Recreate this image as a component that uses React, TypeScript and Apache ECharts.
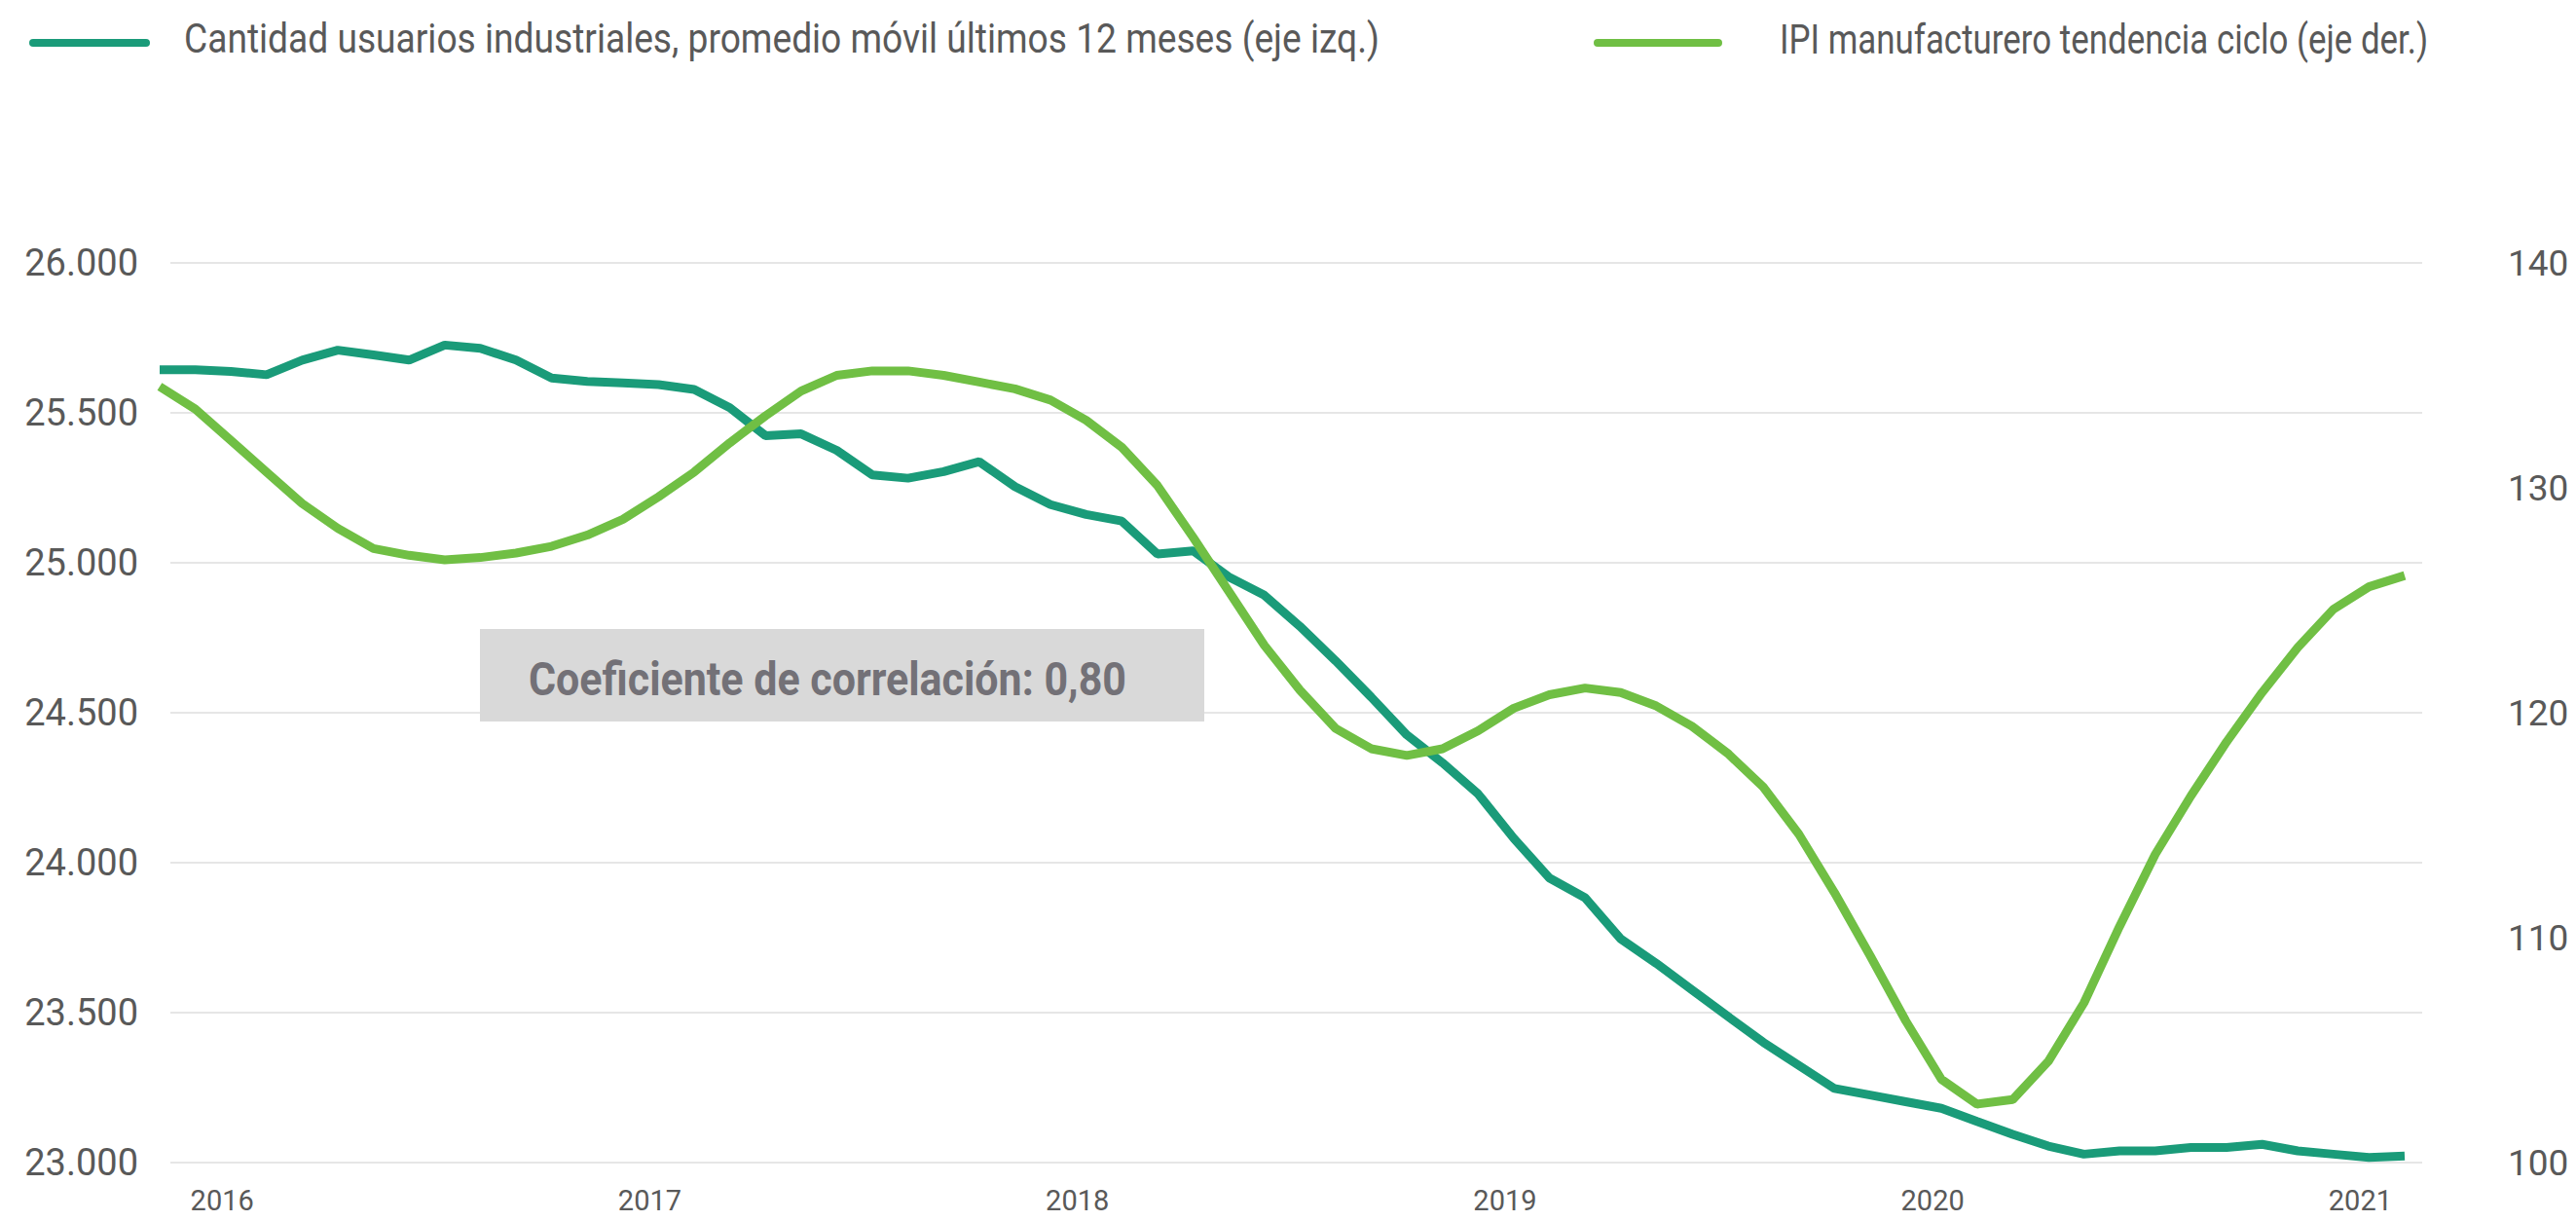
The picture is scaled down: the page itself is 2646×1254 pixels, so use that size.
import React, { useEffect, useRef } from "react";
import * as echarts from "echarts";

const categories = [
  "nov-15", "dic-15",
  "ene-16", "feb-16", "mar-16", "abr-16", "may-16", "jun-16", "jul-16", "ago-16", "sep-16", "oct-16", "nov-16", "dic-16",
  "ene-17", "feb-17", "mar-17", "abr-17", "may-17", "jun-17", "jul-17", "ago-17", "sep-17", "oct-17", "nov-17", "dic-17",
  "ene-18", "feb-18", "mar-18", "abr-18", "may-18", "jun-18", "jul-18", "ago-18", "sep-18", "oct-18", "nov-18", "dic-18",
  "ene-19", "feb-19", "mar-19", "abr-19", "may-19", "jun-19", "jul-19", "ago-19", "sep-19", "oct-19", "nov-19", "dic-19",
  "ene-20", "feb-20", "mar-20", "abr-20", "may-20", "jun-20", "jul-20", "ago-20", "sep-20", "oct-20", "nov-20", "dic-20",
  "ene-21", "feb-21",
];

const usuariosIndustriales = [
  25644, 25644, 25638, 25627, 25676, 25709, 25693, 25676, 25726, 25715, 25676, 25616,
  25605, 25600, 25594, 25578, 25517, 25424, 25430, 25375, 25293, 25282, 25304, 25337,
  25254, 25194, 25161, 25139, 25029, 25040, 24953, 24892, 24788, 24673, 24552, 24426,
  24333, 24229, 24081, 23949, 23883, 23746, 23664, 23576, 23488, 23401, 23324, 23247,
  23225, 23203, 23181, 23137, 23094, 23055, 23028, 23039, 23039, 23050, 23050, 23061,
  23039, 23028, 23017, 23022,
];

const ipiManufacturero = [
  134.5, 133.5, 132.1, 130.7, 129.3, 128.2, 127.3, 127.0, 126.8, 126.9, 127.1, 127.4,
  127.9, 128.6, 129.6, 130.7, 132.0, 133.2, 134.3, 135.0, 135.2, 135.2, 135.0, 134.7,
  134.4, 133.9, 133.0, 131.8, 130.1, 127.8, 125.4, 123.0, 121.0, 119.3, 118.4, 118.1,
  118.4, 119.2, 120.2, 120.8, 121.1, 120.9, 120.3, 119.4, 118.2, 116.7, 114.6, 112.0,
  109.2, 106.3, 103.7, 102.6, 102.8, 104.5, 107.1, 110.5, 113.7, 116.3, 118.7, 120.9,
  122.9, 124.6, 125.6, 126.1,
];

const leftAxis = { min: 23000, max: 26000, interval: 500 };
const rightAxis = { min: 100, max: 140, interval: 10 };

const legendLabels = [
  "Cantidad usuarios industriales, promedio móvil últimos 12 meses (eje izq.)",
  "IPI manufacturero tendencia ciclo (eje der.)",
];
const annotationText = "Coeficiente de correlación: 0,80";

const TEAL = "#1a9b79";
const GREEN = "#70bf44";
const AXIS_TEXT = "#595959";

function measure(text: string, font: string): number {
  const c = document.createElement("canvas");
  const ctx = c.getContext("2d");
  if (!ctx) return text.length * 20;
  ctx.font = font;
  return ctx.measureText(text).width;
}

function thousands(v: number): string {
  return String(v).replace(/\B(?=(\d{3})+(?!\d))/g, ".");
}

export default function App() {
  const ref = useRef<HTMLDivElement>(null);

  useEffect(() => {
    if (!ref.current) return;
    const chart = echarts.init(ref.current, undefined, { renderer: "svg" });

    const legendFont = 42;
    const annFont = 49;
    const w1 = measure(legendLabels[0], `${legendFont}px Roboto`);
    const w2 = measure(legendLabels[1], `${legendFont}px Roboto`);
    const wa = measure(annotationText, `bold ${annFont}px Roboto`);
    const s1 = 1229 / w1;
    const s2 = 666 / w2;
    const sa = 614 / wa;

    chart.setOption({
      animation: false,
      backgroundColor: "#ffffff",
      grid: [
        { left: 164, right: 176, top: 270, bottom: 60, containLabel: false },
        { left: 175, right: 158, top: 270, bottom: 60, containLabel: false },
      ],
      xAxis: [
        {
          type: "category",
          gridIndex: 0,
          data: categories,
          boundaryGap: false,
          axisLine: { show: false },
          axisTick: { show: false },
          splitLine: { show: false },
          axisLabel: {
            interval: (_i: number, v: string) => v.startsWith("ene-"),
            formatter: (v: string) => (v.startsWith("ene-") ? "20" + v.slice(4) : ""),
            color: AXIS_TEXT,
            fontFamily: "Roboto",
            fontSize: 29,
            lineHeight: 29,
            margin: 24,
            padding: [0, 18, 0, 0],
          },
        },
        {
          type: "value",
          gridIndex: 1,
          min: 0,
          max: 1,
          show: false,
        },
      ],
      yAxis: [
        {
          type: "value",
          gridIndex: 0,
          min: leftAxis.min,
          max: leftAxis.max,
          interval: leftAxis.interval,
          position: "left",
          axisLine: { show: false },
          axisTick: { show: false },
          splitLine: { show: false },
          axisLabel: {
            formatter: (v: number) => thousands(v),
            color: AXIS_TEXT,
            fontFamily: "Roboto",
            fontSize: 38,
            margin: 22,
          },
        },
        {
          type: "value",
          gridIndex: 0,
          min: rightAxis.min,
          max: rightAxis.max,
          interval: rightAxis.interval,
          position: "right",
          axisLine: { show: false },
          axisTick: { show: false },
          splitLine: { show: false },
          axisLabel: {
            color: AXIS_TEXT,
            fontFamily: "Roboto",
            fontSize: 37,
            margin: 106,
          },
        },
        {
          type: "value",
          gridIndex: 1,
          min: leftAxis.min,
          max: leftAxis.max,
          interval: leftAxis.interval,
          axisLine: { show: false },
          axisTick: { show: false },
          axisLabel: { show: false },
          splitLine: { show: true, lineStyle: { color: "#e6e6e6", width: 2 } },
        },
      ],
      series: [
        {
          name: legendLabels[0],
          type: "line",
          xAxisIndex: 0,
          yAxisIndex: 0,
          data: usuariosIndustriales,
          symbol: "none",
          lineStyle: { color: TEAL, width: 9 },
          itemStyle: { color: TEAL },
          z: 3,
        },
        {
          name: legendLabels[1],
          type: "line",
          xAxisIndex: 0,
          yAxisIndex: 1,
          data: ipiManufacturero,
          symbol: "none",
          lineStyle: { color: GREEN, width: 9 },
          itemStyle: { color: GREEN },
          z: 4,
        },
      ],
      graphic: [
        {
          type: "line",
          shape: { x1: 34, y1: 44, x2: 150, y2: 44 },
          style: { stroke: TEAL, lineWidth: 8, lineCap: "round" },
        },
        {
          type: "text",
          x: 189,
          y: 40,
          scaleX: s1,
          style: {
            text: legendLabels[0],
            fontFamily: "Roboto",
            fontSize: legendFont,
            fill: AXIS_TEXT,
            align: "left",
            verticalAlign: "middle",
          },
        },
        {
          type: "line",
          shape: { x1: 1641, y1: 44, x2: 1765, y2: 44 },
          style: { stroke: GREEN, lineWidth: 8, lineCap: "round" },
        },
        {
          type: "text",
          x: 1828,
          y: 40,
          scaleX: s2,
          style: {
            text: legendLabels[1],
            fontFamily: "Roboto",
            fontSize: legendFont,
            fill: AXIS_TEXT,
            align: "left",
            verticalAlign: "middle",
          },
        },
        {
          type: "rect",
          z: 100,
          shape: { x: 493, y: 646, width: 744, height: 95 },
          style: { fill: "#d9d9d9" },
        },
        {
          type: "text",
          z: 101,
          x: 543,
          y: 697,
          scaleX: sa,
          style: {
            text: annotationText,
            fontFamily: "Roboto",
            fontWeight: "bold",
            fontSize: annFont,
            fill: "#737177",
            align: "left",
            verticalAlign: "middle",
          },
        },
      ],
    });

    return () => chart.dispose();
  }, []);

  return (
    <div
      ref={ref}
      style={{ position: "fixed", left: 0, top: 0, width: 2646, height: 1254, background: "#fff" }}
    />
  );
}
